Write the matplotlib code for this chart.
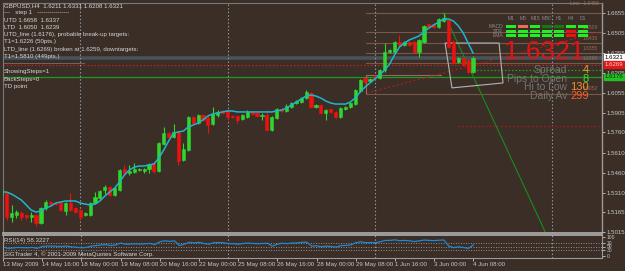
import matplotlib
matplotlib.use('Agg')
import matplotlib.pyplot as plt
from matplotlib.patches import Rectangle, Polygon

# ---------------- data ----------------
opens = [1.5292, 1.5307, 1.5127, 1.5142, 1.5157, 1.5142, 1.5127, 1.5142, 1.5082, 1.5194,
         1.5239, 1.5232, 1.5232, 1.5172, 1.5232, 1.5194, 1.5179, 1.5142, 1.5142, 1.5232,
         1.5269, 1.5329, 1.5352, 1.5292, 1.5329, 1.5487, 1.5457, 1.5464, 1.5479, 1.5472,
         1.5487, 1.5531, 1.5472, 1.5674, 1.5756, 1.5726, 1.5764, 1.5554, 1.5629, 1.5876,
         1.5831, 1.5891, 1.5869, 1.5824, 1.5891, 1.5921, 1.5928, 1.5884, 1.5884, 1.5861,
         1.5876, 1.5914, 1.5906, 1.5884, 1.5891, 1.5779, 1.5869, 1.5936, 1.5921, 1.5951,
         1.5981, 1.5988, 1.6018, 1.6056, 1.5951, 1.5966, 1.5906, 1.5936, 1.5914, 1.5876,
         1.5936, 1.5951, 1.5973, 1.6071, 1.6168, 1.6146, 1.6176, 1.6168, 1.6228, 1.6363,
         1.6363, 1.6438, 1.6415, 1.6438, 1.6438, 1.6363, 1.6438, 1.6573, 1.6573, 1.6550,
         1.6595, 1.6603, 1.6438, 1.6288, 1.6318, 1.6303, 1.6211]
highs = [1.5344, 1.5314, 1.5217, 1.5179, 1.5172, 1.5149, 1.5164, 1.5149, 1.5202, 1.5254,
         1.5247, 1.5239, 1.5239, 1.5239, 1.5307, 1.5202, 1.5187, 1.5164, 1.5239, 1.5314,
         1.5329, 1.5367, 1.5359, 1.5352, 1.5487, 1.5516, 1.5516, 1.5531, 1.5494, 1.5494,
         1.5531, 1.5539, 1.5689, 1.5801, 1.5764, 1.5824, 1.5779, 1.5681, 1.5884, 1.5884,
         1.5899, 1.5899, 1.5884, 1.5951, 1.5928, 1.5928, 1.5936, 1.5891, 1.5891, 1.5899,
         1.5928, 1.5921, 1.5914, 1.5906, 1.5928, 1.5884, 1.5943, 1.5943, 1.5973, 1.5988,
         1.6003, 1.6026, 1.6078, 1.6063, 1.5973, 1.5973, 1.5936, 1.5943, 1.5921, 1.5951,
         1.5958, 1.5988, 1.6086, 1.6161, 1.6176, 1.6168, 1.6191, 1.6236, 1.6430, 1.6385,
         1.6445, 1.6490, 1.6445, 1.6445, 1.6445, 1.6460, 1.6565, 1.6580, 1.6580, 1.6618,
         1.6658, 1.6610, 1.6453, 1.6325, 1.6325, 1.6310, 1.6331]
lows = [1.5277, 1.5105, 1.5090, 1.5119, 1.5105, 1.5112, 1.5090, 1.5060, 1.5075, 1.5179,
        1.5217, 1.5217, 1.5172, 1.5142, 1.5172, 1.5157, 1.5105, 1.5134, 1.5134, 1.5224,
        1.5262, 1.5299, 1.5284, 1.5284, 1.5322, 1.5449, 1.5442, 1.5457, 1.5472, 1.5457,
        1.5457, 1.5457, 1.5464, 1.5666, 1.5719, 1.5719, 1.5516, 1.5546, 1.5621, 1.5824,
        1.5824, 1.5846, 1.5756, 1.5816, 1.5876, 1.5899, 1.5854, 1.5869, 1.5831, 1.5854,
        1.5869, 1.5891, 1.5876, 1.5854, 1.5771, 1.5771, 1.5861, 1.5914, 1.5914, 1.5943,
        1.5973, 1.5981, 1.6011, 1.5943, 1.5943, 1.5899, 1.5854, 1.5906, 1.5869, 1.5869,
        1.5928, 1.5943, 1.5966, 1.6063, 1.6131, 1.6138, 1.6161, 1.6161, 1.6213, 1.6355,
        1.6355, 1.6408, 1.6408, 1.6408, 1.6355, 1.6325, 1.6430, 1.6543, 1.6543, 1.6543,
        1.6588, 1.6393, 1.6273, 1.6280, 1.6258, 1.6206, 1.6208]
closes = [1.5329, 1.5127, 1.5157, 1.5164, 1.5127, 1.5127, 1.5142, 1.5082, 1.5194, 1.5239,
          1.5224, 1.5224, 1.5179, 1.5232, 1.5179, 1.5164, 1.5127, 1.5157, 1.5232, 1.5277,
          1.5322, 1.5352, 1.5292, 1.5344, 1.5479, 1.5457, 1.5472, 1.5487, 1.5487, 1.5487,
          1.5524, 1.5472, 1.5681, 1.5756, 1.5726, 1.5764, 1.5546, 1.5636, 1.5876, 1.5831,
          1.5891, 1.5854, 1.5816, 1.5899, 1.5914, 1.5906, 1.5876, 1.5876, 1.5854, 1.5891,
          1.5914, 1.5899, 1.5884, 1.5891, 1.5779, 1.5876, 1.5936, 1.5921, 1.5958, 1.5981,
          1.5996, 1.6018, 1.6063, 1.5951, 1.5966, 1.5906, 1.5928, 1.5914, 1.5876, 1.5943,
          1.5951, 1.5981, 1.6078, 1.6153, 1.6138, 1.6161, 1.6168, 1.6228, 1.6363, 1.6378,
          1.6438, 1.6415, 1.6438, 1.6415, 1.6363, 1.6453, 1.6558, 1.6550, 1.6550, 1.6610,
          1.6618, 1.6400, 1.6280, 1.6318, 1.6265, 1.6213, 1.6321]
ma = [1.5314, 1.5314, 1.5299, 1.5277, 1.5254, 1.5217, 1.5179, 1.5164, 1.5172, 1.5194,
      1.5209, 1.5232, 1.5239, 1.5247, 1.5247, 1.5247, 1.5232, 1.5224, 1.5217, 1.5224,
      1.5247, 1.5284, 1.5314, 1.5344, 1.5389, 1.5442, 1.5479, 1.5501, 1.5509, 1.5509,
      1.5516, 1.5524, 1.5569, 1.5629, 1.5696, 1.5756, 1.5764, 1.5771, 1.5801, 1.5816,
      1.5831, 1.5854, 1.5884, 1.5899, 1.5906, 1.5914, 1.5921, 1.5921, 1.5914, 1.5914,
      1.5914, 1.5914, 1.5914, 1.5914, 1.5914, 1.5914, 1.5921, 1.5928, 1.5943, 1.5966,
      1.5988, 1.6011, 1.6033, 1.6041, 1.6033, 1.6018, 1.5996, 1.5981, 1.5973, 1.5973,
      1.5973, 1.5988, 1.6018, 1.6063, 1.6101, 1.6131, 1.6161, 1.6191, 1.6228, 1.6273,
      1.6340, 1.6400, 1.6430, 1.6453, 1.6468, 1.6483, 1.6513, 1.6543, 1.6565, 1.6588,
      1.6610, 1.6610, 1.6595, 1.6558, 1.6505, 1.6430, 1.6355]
rsi = [48, 40, 42, 45, 44, 43, 45,
       40, 50, 53, 52, 51, 50, 53, 48, 46, 43,
       45, 52, 55, 58, 60, 55, 58, 68, 62, 63, 64, 63, 64, 66, 60, 75,
       80, 77, 80, 55, 62, 72, 69, 72,
       66, 62, 70, 71, 70, 65, 65, 62, 66, 68, 66, 65, 66, 67, 52, 62, 67, 65, 68, 69,
       72, 73, 52, 54, 49, 52, 50, 47, 55, 56, 58,
       70, 75, 70, 71, 70, 75, 82, 82, 85, 80, 82, 80, 76, 80, 84, 82, 81, 83, 84,
       52, 44, 48, 45, 40, 58.32]

time_bars = [0, 8, 16, 24, 32, 40, 48, 56, 64, 72, 80, 88, 96]
time_labels = ["13 May 2009", "14 May 16:00", "18 May 00:00", "19 May 08:00", "20 May 16:00",
               "22 May 00:00", "25 May 08:00", "26 May 16:00", "28 May 00:00", "29 May 08:00",
               "1 Jun 16:00", "3 Jun 00:00", "4 Jun 08:00"]
price_ticks = [1.6655, 1.6505, 1.6355, 1.6205, 1.6055, 1.5905, 1.5760, 1.5610,
               1.5460, 1.5310, 1.5165, 1.5015]
rsi_ticks = [100, 70, 50, 30, 0]
separator_bars = [16, 46, 76, 112]

bid = 1.6321
ltd_line = 1.6269
utd_line = 1.6176
target_up = 1.6226
target_down = 1.5810
pivot_levels = [1.6655, 1.6509, 1.6430, 1.6355, 1.6280, 1.6052]
utd_diag_bars = [90, 110.7]
utd_diag_prices = [1.6658, 1.5015]
ltd_diag_bars = [74.4, 121.9]
ltd_diag_prices = [1.6056, 1.6513]
box_bars = [90.3, 101.3, 102.1, 91.7]
box_prices = [1.6430, 1.6430, 1.6131, 1.6094]

info_lines = ["GBPUSD,H4  1.6211 1.6331 1.6208 1.6321",
              "---   step 1   ----------------",
              "UTD 1.6658  1.6337",
              "LTD  1.6050  1.6239",
              "UTD_line (1.6176), probable break-up targets:",
              "T1=1.6226 (50pts.)",
              "LTD_line (1.6269) broken at 1.6259, downtargets:",
              "T1=1.5810 (449pts.)",
              "-----------------------------------------",
              "ShowingSteps=1",
              "BackSteps=0",
              "TD point"]

tf_labels = ["M1", "M5", "M15", "M30", "H1", "H4", "D1"]
row_labels = ["MACD", "STR", "EMA"]
cell_colors = [["#22ee22", "#e8705a", "#22ee22", "#137a13", "#137a13", "#22ee22", "#22ee22"],
               ["#22ee22", "#22ee22", "#22ee22", "#22ee22", "#22ee22", "#ee1111", "#22ee22"],
               ["#22ee22", "#22ee22", "#22ee22", "#22ee22", "#22ee22", "#ee1111", "#22ee22"]]

stat_labels = ["Spread", "Pips to Open", "Hi to Low", "Daily Av"]
stat_values = ["4", "8", "130", "299"]
stat_colors = ["#f0a020", "#33e033", "#f09030", "#ff5a28"]

# ---------------- style ----------------
BG = '#3a2e27'
FG = '#d6d6d6'
BULL = '#2fd62f'
BEAR = '#f01010'
MA_C = '#1fb6cc'
SEP_C = '#8e9eb0'
PIV_C = '#7a5846'
FONT = 'Liberation Sans'
FS = 4.4

W, H = 625, 271
fig = plt.figure(figsize=(W / 100, H / 100), dpi=100)
fig.patch.set_facecolor(BG)


def fx(x):
    return x / W


def fy(y):
    return 1 - y / H


L, R = 3, 602
ax = fig.add_axes([fx(L), fy(233), (R - L) / W, (233 - 3) / H])
ax.set_facecolor(BG)
ax.set_xlim((L - 1.7) / 4.91, (R - 1.7) / 4.91)
ax.set_ylim(1.50072, 1.67299)

# horizontal full-width lines
ax.axhline(bid, color='#48525a', lw=2.6, zorder=1)
ax.axhline(ltd_line, color='#c81e1e', lw=0.9, ls=(0, (1.2, 1.6)), zorder=1)
ax.axhline(utd_line, color='#1f9a1f', lw=0.9, zorder=1)

for b in separator_bars:
    ax.axvline(b, color=SEP_C, lw=0.8, ls=(0, (1.2, 2.0)), zorder=1)

for lev in pivot_levels:
    ax.plot([74.2, 125], [lev, lev], color=PIV_C, lw=0.8, zorder=1)
for lev in pivot_levels[1:]:
    ax.annotate(f"{lev:.4f}", xy=(1.0, lev), xycoords=('axes fraction', 'data'),
                xytext=(-3, 1.6), textcoords='offset points', ha='right', va='bottom',
                fontsize=3.6, family=FONT, color='#9c6c4c', zorder=2)
ax.plot([74.2, 89.5], [1.6191, 1.6191], color='#a06464', lw=0.8, zorder=1)
ax.plot([74.2, 74.2], [1.6056, 1.6191], color='#a06464', lw=0.8, zorder=1)
ax.plot([95.9, 125], [target_up, target_up], color='#22a022', lw=0.9, ls=(0, (1.2, 1.6)), zorder=1)
ax.plot([92.9, 125], [target_down, target_down], color='#9a1c1c', lw=1.0, ls=(0, (1.2, 1.6)), zorder=1)
ax.plot(ltd_diag_bars, ltd_diag_prices, color='#b01c1c', lw=0.9, ls=(0, (1.5, 2.0)), zorder=1)
ax.plot(utd_diag_bars, utd_diag_prices, color='#1a8c1a', lw=0.8, zorder=2)
ax.add_patch(Polygon(list(zip(box_bars, box_prices)), closed=True, fill=False,
                     edgecolor='#b4b4b4', lw=0.8, zorder=3))

# candles
for i, (o, h, l, c) in enumerate(zip(opens, highs, lows, closes)):
    col = BULL if c >= o else BEAR
    ax.plot([i, i], [l, h], color=col, lw=0.8, zorder=4, solid_capstyle='butt')
    ax.add_patch(Rectangle((i - 0.32, min(o, c)), 0.64, max(abs(c - o), 0.00035),
                           facecolor=col, edgecolor=col, lw=0.4, zorder=5))

ax.plot(range(len(ma)), ma, color=MA_C, lw=1.1, zorder=6)

# axes style
for s in ['top', 'left']:
    ax.spines[s].set_color('#7a7a7a')
    ax.spines[s].set_linewidth(0.8)
ax.spines['right'].set_color('#9a9a9a')
ax.spines['right'].set_linewidth(1.0)
ax.spines['bottom'].set_color('#b0b0b0')
ax.spines['bottom'].set_linewidth(1.2)
ax.yaxis.tick_right()
ax.set_yticks(price_ticks)
ax.set_yticklabels([f"{p:.4f}" for p in price_ticks])
ax.tick_params(axis='y', colors='#c8c8c8', labelsize=FS, length=2, width=0.6, pad=1.2)
for t in ax.get_yticklabels():
    t.set_fontfamily(FONT)
ax.set_xticks([])

# price boxes on the right axis
for val, fc, tc in [(bid, '#ffffff', '#000000'), (ltd_line, '#e01818', '#f0d0d0'),
                    (utd_line, '#22c022', '#063006')]:
    ax.annotate(f"{val:.4f}", xy=(1.0, val), xycoords=('axes fraction', 'data'),
                xytext=(2.2, 0), textcoords='offset points', va='center', ha='left',
                fontsize=FS, family=FONT, color=tc,
                bbox=dict(boxstyle='square,pad=0.12', fc=fc, ec=fc), annotation_clip=False)

# ---------------- RSI panel ----------------
ax2 = fig.add_axes([fx(L), fy(258), (R - L) / W, (258 - 235) / H])
ax2.set_facecolor(BG)
ax2.set_xlim(ax.get_xlim())
ax2.set_ylim(-10.5, 110.5)
for lv in [70, 50, 30]:
    ax2.axhline(lv, color='#9a9a9a', lw=0.6, ls=(0, (1.2, 1.8)))
for b in separator_bars:
    ax2.axvline(b, color=SEP_C, lw=0.8, ls=(0, (1.2, 2.0)))
ax2.plot(range(len(rsi)), rsi, color='#1e88d6', lw=0.9)
for s in ['top', 'left', 'right', 'bottom']:
    ax2.spines[s].set_color('#9a9a9a')
    ax2.spines[s].set_linewidth(0.8)
ax2.spines['top'].set_color('#b0b0b0')
ax2.spines['top'].set_linewidth(1.2)
ax2.yaxis.tick_right()
ax2.set_yticks(rsi_ticks)
ax2.set_yticklabels([str(v) for v in rsi_ticks])
ax2.tick_params(axis='y', colors='#c8c8c8', labelsize=3.6, length=2, width=0.6, pad=1.2)
ax2.set_xticks(time_bars)
ax2.set_xticklabels(time_labels)
ax2.tick_params(axis='x', colors='#c8c8c8', labelsize=FS, length=2, width=0.6, pad=1.2)
for t in ax2.get_xticklabels():
    t.set_horizontalalignment('left')
    t.set_fontfamily(FONT)
for t in ax2.get_yticklabels():
    t.set_fontfamily(FONT)

fig.text(fx(4), fy(240.5), "RSI(14) 58.3227", fontsize=FS, family=FONT, color=FG, va='center')
fig.text(fx(4), fy(254.5), "SIGTrader 4, \u00a9 2001-2009 MetaQuotes Software Corp.",
         fontsize=FS, family=FONT, color=FG, va='center')

# ---------------- overlay texts ----------------
for k, line in enumerate(info_lines):
    yy = 5.5 + 7.3 * k if k < 9 else 5.5 + 7.3 * k + 0.5
    fig.text(fx(4), fy(yy), line, fontsize=FS, family=FONT, color=FG, va='center')

# indicator dashboard
for j, lab in enumerate(tf_labels):
    fig.text(fx(511 + 12 * j), fy(18.5), lab, fontsize=3.6, family=FONT, color='#8a8a8a',
             va='center', ha='center')
for r, lab in enumerate(row_labels):
    fig.text(fx(503), fy(26.5 + 4.7 * r), lab, fontsize=3.6, family=FONT, color='#8a8a8a',
             va='center', ha='right')
    for j in range(len(tf_labels)):
        fig.add_artist(Rectangle((fx(505.5 + 12 * j), fy(28 + 4.7 * r)), 10.5 / W, 3 / H,
                                 transform=fig.transFigure, facecolor=cell_colors[r][j],
                                 edgecolor='none'))

fig.text(fx(544), fy(52), f"{bid:.4f}", fontsize=19, family=FONT, color='#e01414',
         va='center', ha='center')

stat_y = [70, 79, 87.5, 96]
for lab, val, col, yy in zip(stat_labels, stat_values, stat_colors, stat_y):
    fig.text(fx(567), fy(yy), lab, fontsize=7.5, family=FONT, color='#747474',
             va='center', ha='right')
    fig.text(fx(589), fy(yy), val, fontsize=8, family=FONT, color=col, va='center', ha='right')

fig.text(fx(570), fy(3.5), "Low   1.6458", fontsize=3.6, family=FONT, color='#a07050', va='center')

fig.savefig('out.png', dpi=100, facecolor=BG)
